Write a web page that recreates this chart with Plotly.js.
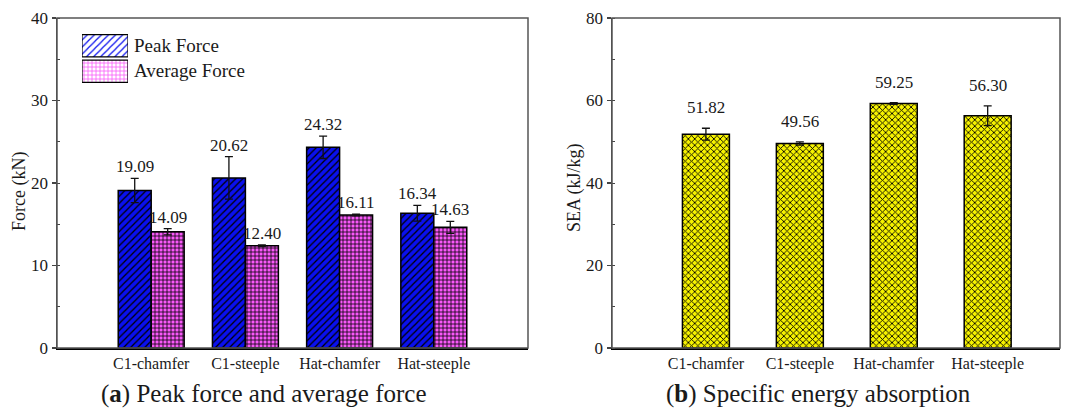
<!DOCTYPE html>
<html>
<head>
<meta charset="utf-8">
<script src="https://cdn.plot.ly/plotly-3.0.1.min.js"></script>
<style>
  html, body { margin: 0; padding: 0; background: #fff; }
  #chart { width: 1073px; height: 415px; }
</style>
</head>
<body>
<div id="chart"></div>
<script>
// Specimen groups
const categories = ['C1-chamfer', 'C1-steeple', 'Hat-chamfer', 'Hat-steeple'];

// (a) crushing forces, kN
const peakForce = [19.09, 20.62, 24.32, 16.34];
const peakForceErr = [1.48, 2.58, 1.35, 0.96];
const avgForce = [14.09, 12.40, 16.11, 14.63];
const avgForceErr = [0.37, 0.10, 0.10, 0.73];

// (b) specific energy absorption, kJ/kg
const sea = [51.82, 49.56, 59.25, 56.30];
const seaErr = [1.45, 0.40, 0.20, 2.40];

const seriesNames = ['Peak Force', 'Average Force'];
const axisTitles = ['Force (kN)', 'SEA (kJ/kg)'];
const captions = ['(<b>a</b>) Peak force and average force', '(<b>b</b>) Specific energy absorption'];

const W = 1073, H = 415;
const px = v => v / W;
const py = v => 1 - v / H;

const serif = 'Liberation Serif';
const ink = '#1a1a1a';

const BLUE = '#0a10ee';
const PINK = '#f858f8';
const YELLOW = '#f6f200';

const errStyle = { type: 'data', visible: true, color: '#111', thickness: 1.3, width: 4 };

const traces = [
  {
    type: 'bar', name: seriesNames[0], x: categories, y: peakForce,
    xaxis: 'x', yaxis: 'y', showlegend: false,
    error_y: Object.assign({ array: peakForceErr }, errStyle),
    marker: {
      color: BLUE,
      line: { color: '#000', width: 1.5 },
      pattern: { shape: '/', fillmode: 'replace', bgcolor: BLUE, fgcolor: '#000', size: 5, solidity: 0.25 }
    },
    hoverinfo: 'x+y'
  },
  {
    type: 'bar', name: seriesNames[1], x: categories, y: avgForce,
    xaxis: 'x', yaxis: 'y', showlegend: false,
    error_y: Object.assign({ array: avgForceErr }, errStyle),
    marker: {
      color: PINK,
      line: { color: '#000', width: 1.5 },
      pattern: { shape: '+', fillmode: 'replace', bgcolor: PINK, fgcolor: '#000', size: 4, solidity: 0.35 }
    },
    hoverinfo: 'x+y'
  },
  {
    type: 'bar', name: 'SEA', x: categories, y: sea, width: 0.5,
    xaxis: 'x2', yaxis: 'y2', showlegend: false,
    error_y: Object.assign({ array: seaErr }, errStyle),
    marker: {
      color: YELLOW,
      line: { color: '#000', width: 1.5 },
      pattern: { shape: 'x', fillmode: 'replace', bgcolor: YELLOW, fgcolor: '#000', size: 4.5, solidity: 0.35 }
    },
    hoverinfo: 'x+y'
  },
  // Legend swatches for panel (a), drawn as patterned bars on a small dedicated axis
  {
    type: 'bar', orientation: 'h', x: [1, 1], y: [seriesNames[1], seriesNames[0]], width: 0.88,
    xaxis: 'x3', yaxis: 'y3', showlegend: false, hoverinfo: 'skip',
    marker: {
      color: [PINK, BLUE],
      line: { color: '#000', width: 1.2 },
      pattern: {
        shape: ['+', '/'], fillmode: 'replace', bgcolor: [PINK, BLUE], fgcolor: '#000',
        size: [4, 5], solidity: [0.35, 0.25]
      }
    }
  }
];

const annotations = [];
const barHalf = 0.175;
categories.forEach((c, i) => {
  annotations.push({
    xref: 'x', yref: 'y', x: i - barHalf, y: peakForce[i] + peakForceErr[i],
    text: peakForce[i].toFixed(2), showarrow: false, yanchor: 'bottom', yshift: 0,
    font: { family: serif, size: 17, color: ink }
  });
  annotations.push({
    xref: 'x', yref: 'y', x: i + barHalf, y: avgForce[i] + avgForceErr[i],
    text: avgForce[i].toFixed(2), showarrow: false, yanchor: 'bottom', yshift: 0,
    font: { family: serif, size: 17, color: ink }
  });
  annotations.push({
    xref: 'x2', yref: 'y2', x: c, y: sea[i] + seaErr[i],
    text: sea[i].toFixed(2), showarrow: false, yanchor: 'bottom', yshift: 9,
    font: { family: serif, size: 17, color: ink }
  });
});

// Legend labels
annotations.push({
  xref: 'paper', yref: 'paper', x: px(132), y: py(46), xanchor: 'left', yanchor: 'middle',
  text: seriesNames[0], showarrow: false, font: { family: serif, size: 19, color: ink }
});
annotations.push({
  xref: 'paper', yref: 'paper', x: px(132), y: py(71), xanchor: 'left', yanchor: 'middle',
  text: seriesNames[1], showarrow: false, font: { family: serif, size: 19, color: ink }
});

// Vertical axis titles
annotations.push({
  xref: 'paper', yref: 'paper', x: px(19), y: py(192), xanchor: 'center', yanchor: 'middle',
  textangle: -90, text: axisTitles[0], showarrow: false, font: { family: serif, size: 18, color: ink }
});
annotations.push({
  xref: 'paper', yref: 'paper', x: px(574), y: py(188), xanchor: 'center', yanchor: 'middle',
  textangle: -90, text: axisTitles[1], showarrow: false, font: { family: serif, size: 18, color: ink }
});

// Panel captions
annotations.push({
  xref: 'paper', yref: 'paper', x: px(264), y: py(394), xanchor: 'center', yanchor: 'middle',
  text: captions[0], showarrow: false, font: { family: serif, size: 25, color: ink }
});
annotations.push({
  xref: 'paper', yref: 'paper', x: px(818), y: py(394), xanchor: 'center', yanchor: 'middle',
  text: captions[1], showarrow: false, font: { family: serif, size: 25, color: ink }
});

const xCommon = {
  type: 'category', range: [-1, 4], showgrid: false, zeroline: false,
  showline: true, linecolor: '#000', linewidth: 2, mirror: false,
  ticks: '', tickfont: { family: serif, size: 16, color: ink },
  fixedrange: true
};
const yCommon = {
  showgrid: false, zeroline: false, showline: true, linecolor: '#444', linewidth: 1.5,
  ticks: 'outside', ticklen: 4, tickwidth: 1.2, tickcolor: '#444',
  minor: { ticks: 'inside', ticklen: 3, tickwidth: 1, tickcolor: '#444' },
  tickfont: { family: serif, size: 17, color: ink },
  fixedrange: true
};

const frame = (x0, x1, y0, y1) => ({
  type: 'rect', xref: 'paper', yref: 'paper', x0: px(x0), x1: px(x1), y0: py(y1), y1: py(y0),
  line: { color: '#555', width: 1.5 }, fillcolor: 'rgba(0,0,0,0)', layer: 'above'
});

const layout = {
  width: W, height: H,
  margin: { l: 0, r: 0, t: 0, b: 0 },
  paper_bgcolor: '#fff', plot_bgcolor: '#fff',
  font: { family: serif },
  barmode: 'group', bargap: 0.3, bargroupgap: 0,
  showlegend: false,
  xaxis: Object.assign({}, xCommon, { domain: [px(57), px(528)], anchor: 'y' }),
  yaxis: Object.assign({}, yCommon, {
    domain: [py(348), py(18)], anchor: 'x', range: [0, 40], dtick: 10,
    minor: Object.assign({}, yCommon.minor, { dtick: 5 })
  }),
  xaxis2: Object.assign({}, xCommon, { domain: [px(612), px(1060)], anchor: 'y2', range: [-1, 3.77] }),
  yaxis2: Object.assign({}, yCommon, {
    domain: [py(348), py(18)], anchor: 'x2', range: [0, 80], dtick: 20,
    minor: Object.assign({}, yCommon.minor, { dtick: 10 })
  }),
  xaxis3: {
    domain: [px(82), px(128)], anchor: 'y3', range: [0, 1], visible: false, fixedrange: true
  },
  yaxis3: {
    domain: [py(84), py(33)], anchor: 'x3', type: 'category', visible: false, fixedrange: true,
    range: [-0.5, 1.5]
  },
  shapes: [frame(57, 528, 18, 348), frame(612, 1060, 18, 348)],
  annotations: annotations
};

Plotly.newPlot('chart', traces, layout, { displayModeBar: false, staticPlot: true });
</script>
</body>
</html>
